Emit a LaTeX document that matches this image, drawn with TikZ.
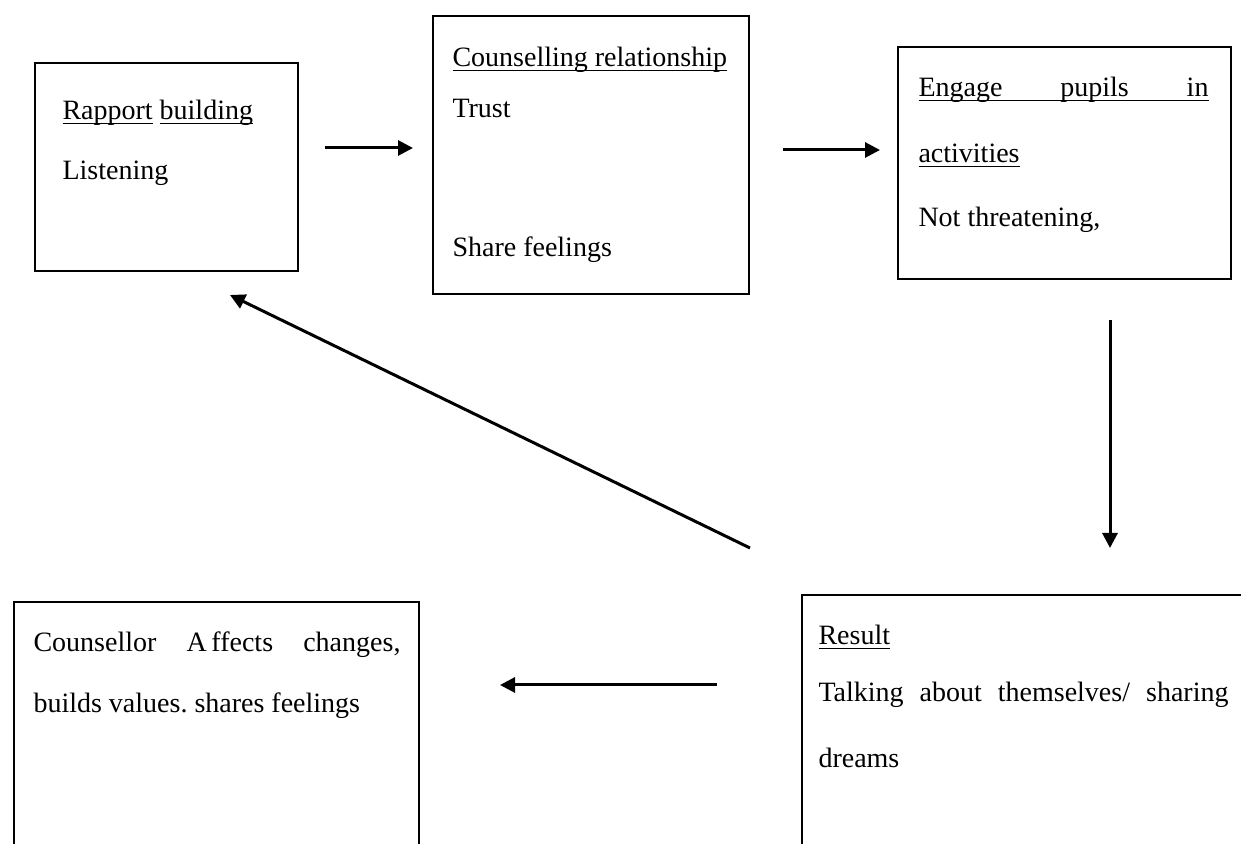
\documentclass[tikz,border=0pt]{standalone}
\usepackage{fontspec}
\setmainfont{Liberation Serif}
\usetikzlibrary{arrows.meta}

\newcommand{\uln}[1]{\underline{\smash{#1}}}

\begin{document}
\frenchspacing
\begin{tikzpicture}[x=0.4pt, y=-0.4pt, font=\fontsize{11.2}{13}\selectfont]
    \tikzset{
        box/.style = {rectangle, draw=black, line width=0.7pt, inner sep=0pt, anchor=north west},
        txt/.style = {inner sep=0pt, anchor=base west},
        arrow/.style = {line width=1.2pt, -{Triangle[length=6pt, width=6pt]}}
    }
    \clip (0,0) rectangle (1241,844);
    \fill[white] (0,0) rectangle (1241,844);

    % boxes
    \node (rapport) [box, minimum width=105.2pt, minimum height=83.2pt] at (34,62) {};
    \node (counsel) [box, minimum width=126.4pt, minimum height=111.2pt] at (432,15) {};
    \node (engage) [box, minimum width=133.2pt, minimum height=92.8pt] at (897,46) {};
    \node (affects) [box, minimum width=162pt, minimum height=99.6pt] at (13,601) {};
    \node (result) [box, minimum width=179.6pt, minimum height=102.4pt] at (801,594) {};

    % texts
    \node (rapportT) [txt] at (62,120) {\uln{Rapport} \uln{building}};
    \node (listenT) [txt] at (62,180) {Listening};

    \node (counselT) [txt] at (452,67) {\uln{Counselling relationship}};
    \node (trustT) [txt] at (452,118) {Trust};
    \node (shareT) [txt] at (452,257) {Share feelings};

    \node (engageT) [txt] at (918,97) {\uln{\makebox[116pt][s]{Engage pupils in}}};
    \node (activT) [txt] at (918,163) {\uln{activities}};
    \node (threatT) [txt] at (918,227) {Not threatening,};

    \node (affectsT) [txt] at (33,652) {\makebox[146.8pt][s]{Counsellor A\,ffects changes,}};
    \node (buildsT) [txt] at (33,713) {builds values. shares feelings};

    \node (resultT) [txt] at (818,645) {\uln{Result}};
    \node (talkT) [txt] at (818,702) {\makebox[164pt][s]{Talking about themselves/ sharing}};
    \node (dreamT) [txt] at (818,768) {dreams};

    % arrow ends
    \coordinate (a1s) at (325,148);
    \coordinate (a1e) at (413,148);
    \coordinate (a2s) at (783,150);
    \coordinate (a2e) at (880,150);
    \coordinate (a3s) at (1110,320);
    \coordinate (a3e) at (1110,548);
    \coordinate (a4s) at (750,548);
    \coordinate (a4e) at (230,295);
    \coordinate (a5s) at (717,685);
    \coordinate (a5e) at (500,685);

    \draw [arrow] (a1s) -- (a1e);
    \draw [arrow] (a2s) -- (a2e);
    \draw [arrow] (a3s) -- (a3e);
    \draw [arrow] (a4s) -- (a4e);
    \draw [arrow] (a5s) -- (a5e);
\end{tikzpicture}
\end{document}
